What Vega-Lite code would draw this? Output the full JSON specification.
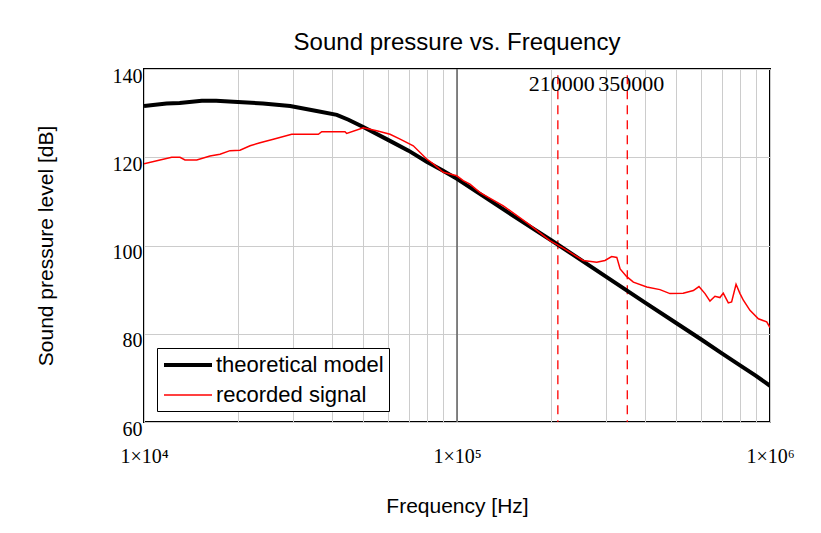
{
  "$schema": "https://vega.github.io/schema/vega-lite/v6.json",
  "width": 626,
  "height": 353,
  "autosize": {"type": "none"},
  "padding": {"left": 144, "top": 69, "right": 51, "bottom": 111},
  "background": "white",
  "title": {"text": "Sound pressure vs. Frequency", "font": "Liberation Sans", "fontSize": 24, "fontWeight": "normal", "color": "black", "anchor": "middle", "frame": "group", "baseline": "alphabetic", "offset": 17, "dy": 25},
  "config": {"view": {"stroke": "black", "strokeWidth": 2}},
  "datasets": {
    "series": [
      {"f": 10000, "db": 131.6, "s": "theoretical model"},
      {"f": 11800, "db": 132.2, "s": "theoretical model"},
      {"f": 13000, "db": 132.3, "s": "theoretical model"},
      {"f": 15300, "db": 132.8, "s": "theoretical model"},
      {"f": 17000, "db": 132.8, "s": "theoretical model"},
      {"f": 19300, "db": 132.6, "s": "theoretical model"},
      {"f": 24000, "db": 132.2, "s": "theoretical model"},
      {"f": 29300, "db": 131.6, "s": "theoretical model"},
      {"f": 35600, "db": 130.5, "s": "theoretical model"},
      {"f": 41300, "db": 129.6, "s": "theoretical model"},
      {"f": 45000, "db": 128.5, "s": "theoretical model"},
      {"f": 50000, "db": 126.9, "s": "theoretical model"},
      {"f": 60000, "db": 124.0, "s": "theoretical model"},
      {"f": 70000, "db": 121.5, "s": "theoretical model"},
      {"f": 80000, "db": 119.0, "s": "theoretical model"},
      {"f": 90000, "db": 117.0, "s": "theoretical model"},
      {"f": 100000, "db": 115.1, "s": "theoretical model"},
      {"f": 120000, "db": 111.4, "s": "theoretical model"},
      {"f": 150000, "db": 106.9, "s": "theoretical model"},
      {"f": 200000, "db": 101.2, "s": "theoretical model"},
      {"f": 300000, "db": 92.9, "s": "theoretical model"},
      {"f": 400000, "db": 87.0, "s": "theoretical model"},
      {"f": 500000, "db": 82.5, "s": "theoretical model"},
      {"f": 600000, "db": 78.8, "s": "theoretical model"},
      {"f": 700000, "db": 75.6, "s": "theoretical model"},
      {"f": 800000, "db": 72.9, "s": "theoretical model"},
      {"f": 900000, "db": 70.5, "s": "theoretical model"},
      {"f": 1000000, "db": 68.2, "s": "theoretical model"},
      {"f": 10000, "db": 118.5, "s": "recorded signal"},
      {"f": 12260, "db": 120.0, "s": "recorded signal"},
      {"f": 13030, "db": 120.0, "s": "recorded signal"},
      {"f": 13520, "db": 119.4, "s": "recorded signal"},
      {"f": 14740, "db": 119.4, "s": "recorded signal"},
      {"f": 16250, "db": 120.3, "s": "recorded signal"},
      {"f": 17490, "db": 120.7, "s": "recorded signal"},
      {"f": 18830, "db": 121.5, "s": "recorded signal"},
      {"f": 20260, "db": 121.6, "s": "recorded signal"},
      {"f": 21820, "db": 122.6, "s": "recorded signal"},
      {"f": 23480, "db": 123.3, "s": "recorded signal"},
      {"f": 25890, "db": 124.1, "s": "recorded signal"},
      {"f": 29640, "db": 125.2, "s": "recorded signal"},
      {"f": 36060, "db": 125.2, "s": "recorded signal"},
      {"f": 36970, "db": 125.8, "s": "recorded signal"},
      {"f": 43870, "db": 125.8, "s": "recorded signal"},
      {"f": 44430, "db": 125.4, "s": "recorded signal"},
      {"f": 50200, "db": 126.7, "s": "recorded signal"},
      {"f": 55400, "db": 126.0, "s": "recorded signal"},
      {"f": 61100, "db": 125.2, "s": "recorded signal"},
      {"f": 65800, "db": 124.1, "s": "recorded signal"},
      {"f": 72500, "db": 122.6, "s": "recorded signal"},
      {"f": 80000, "db": 119.6, "s": "recorded signal"},
      {"f": 84000, "db": 118.5, "s": "recorded signal"},
      {"f": 90400, "db": 116.6, "s": "recorded signal"},
      {"f": 99800, "db": 115.8, "s": "recorded signal"},
      {"f": 104700, "db": 114.7, "s": "recorded signal"},
      {"f": 110000, "db": 113.9, "s": "recorded signal"},
      {"f": 118500, "db": 112.0, "s": "recorded signal"},
      {"f": 140600, "db": 109.0, "s": "recorded signal"},
      {"f": 170000, "db": 104.8, "s": "recorded signal"},
      {"f": 198000, "db": 101.1, "s": "recorded signal"},
      {"f": 220000, "db": 99.3, "s": "recorded signal"},
      {"f": 253000, "db": 96.6, "s": "recorded signal"},
      {"f": 279500, "db": 96.2, "s": "recorded signal"},
      {"f": 297000, "db": 96.6, "s": "recorded signal"},
      {"f": 312000, "db": 97.5, "s": "recorded signal"},
      {"f": 324000, "db": 97.3, "s": "recorded signal"},
      {"f": 332000, "db": 94.7, "s": "recorded signal"},
      {"f": 348000, "db": 93.0, "s": "recorded signal"},
      {"f": 366000, "db": 91.7, "s": "recorded signal"},
      {"f": 404000, "db": 90.6, "s": "recorded signal"},
      {"f": 445000, "db": 90.0, "s": "recorded signal"},
      {"f": 479000, "db": 89.1, "s": "recorded signal"},
      {"f": 528000, "db": 89.2, "s": "recorded signal"},
      {"f": 569000, "db": 89.8, "s": "recorded signal"},
      {"f": 593000, "db": 90.7, "s": "recorded signal"},
      {"f": 620000, "db": 89.1, "s": "recorded signal"},
      {"f": 643000, "db": 87.4, "s": "recorded signal"},
      {"f": 667000, "db": 88.5, "s": "recorded signal"},
      {"f": 692000, "db": 88.2, "s": "recorded signal"},
      {"f": 709000, "db": 89.2, "s": "recorded signal"},
      {"f": 736000, "db": 87.0, "s": "recorded signal"},
      {"f": 754000, "db": 87.2, "s": "recorded signal"},
      {"f": 779000, "db": 91.2, "s": "recorded signal"},
      {"f": 802000, "db": 89.1, "s": "recorded signal"},
      {"f": 822000, "db": 87.6, "s": "recorded signal"},
      {"f": 863000, "db": 85.3, "s": "recorded signal"},
      {"f": 918000, "db": 83.4, "s": "recorded signal"},
      {"f": 976000, "db": 82.7, "s": "recorded signal"},
      {"f": 1000000, "db": 81.4, "s": "recorded signal"}
    ],
    "markers": [
      {"f": 210000, "label": "210000"},
      {"f": 350000, "label": "350000"}
    ],
    "axisline": [
      {"f": 100000}
    ]
  },
  "layer": [
    {
      "data": {"name": "axisline"},
      "mark": {"type": "rule", "color": "#606060", "strokeWidth": 1.5},
      "encoding": {
        "x": {
          "field": "f", "type": "quantitative",
          "scale": {"type": "log", "domain": [10000, 1000000]},
          "axis": {
            "title": "Frequency [Hz]", "titleFont": "Liberation Sans", "titleFontSize": 21, "titleFontWeight": "normal", "titleColor": "black", "titlePadding": 29,
            "values": [10000, 20000, 30000, 40000, 50000, 60000, 70000, 80000, 90000, 100000, 200000, 300000, 400000, 500000, 600000, 700000, 800000, 900000, 1000000],
            "labelExpr": "datum.value == 10000 ? '1×10⁴' : datum.value == 100000 ? '1×10⁵' : datum.value == 1000000 ? '1×10⁶' : ''",
            "labelFont": "Liberation Serif", "labelFontSize": 20, "labelColor": "black", "labelPadding": 24, "labelBaseline": "top", "labelFlush": false, "labelOverlap": false,
            "ticks": false, "tickSize": 0, "domain": false, "grid": true, "gridColor": "#cccccc", "gridWidth": 1
          }
        }
      }
    },
    {
      "data": {"name": "markers"},
      "mark": {"type": "rule", "color": "#ff0000", "strokeWidth": 1.3, "strokeDash": [9, 6]},
      "encoding": {
        "x": {"field": "f", "type": "quantitative"},
        "y": {"datum": 138.6},
        "y2": {"datum": 60}
      }
    },
    {
      "data": {"name": "series"},
      "mark": {"type": "line", "clip": true},
      "encoding": {
        "x": {"field": "f", "type": "quantitative"},
        "y": {
          "field": "db", "type": "quantitative",
          "scale": {"domain": [60, 140], "nice": false, "zero": false},
          "axis": {
            "title": "Sound pressure level [dB]", "titleFont": "Liberation Sans", "titleFontSize": 21, "titleFontWeight": "normal", "titleColor": "black", "titlePadding": 56,
            "values": [60, 80, 100, 120, 140],
            "labelFont": "Liberation Serif", "labelFontSize": 20, "labelColor": "black", "labelPadding": 2, "labelBaseline": "top", "labelFlush": false, "labelOffset": -3,
            "ticks": false, "tickSize": 0, "domain": false, "grid": true, "gridColor": "#cccccc", "gridWidth": 1
          }
        },
        "color": {
          "field": "s", "type": "nominal",
          "scale": {"domain": ["theoretical model", "recorded signal"], "range": ["#000000", "#ff0000"]},
          "legend": {"orient": "none", "legendX": 13, "legendY": 279, "title": null, "symbolType": "M-2.4,0H2.4", "symbolSize": 400, "symbolOffset": 14, "labelFont": "Liberation Sans", "labelFontSize": 22, "labelColor": "black", "padding": 5, "rowPadding": 8, "strokeColor": "black", "fillColor": "white", "labelOffset": 16, "labelLimit": 300}
        },
        "strokeWidth": {
          "field": "s", "type": "nominal",
          "scale": {"domain": ["theoretical model", "recorded signal"], "range": [4, 1.5]},
          "legend": {"orient": "none", "legendX": 13, "legendY": 279, "title": null, "symbolType": "M-2.4,0H2.4", "symbolSize": 400, "symbolOffset": 14, "labelFont": "Liberation Sans", "labelFontSize": 22, "labelColor": "black", "padding": 5, "rowPadding": 8, "strokeColor": "black", "fillColor": "white", "labelOffset": 16, "labelLimit": 300}
        }
      }
    },
    {
      "data": {"name": "markers"},
      "mark": {"type": "text", "font": "Liberation Serif", "fontSize": 22, "baseline": "top", "align": "center", "dx": 4, "dy": 5, "color": "black"},
      "encoding": {
        "x": {"field": "f", "type": "quantitative"},
        "y": {"datum": 140},
        "text": {"field": "label"}
      }
    }
  ]
}
